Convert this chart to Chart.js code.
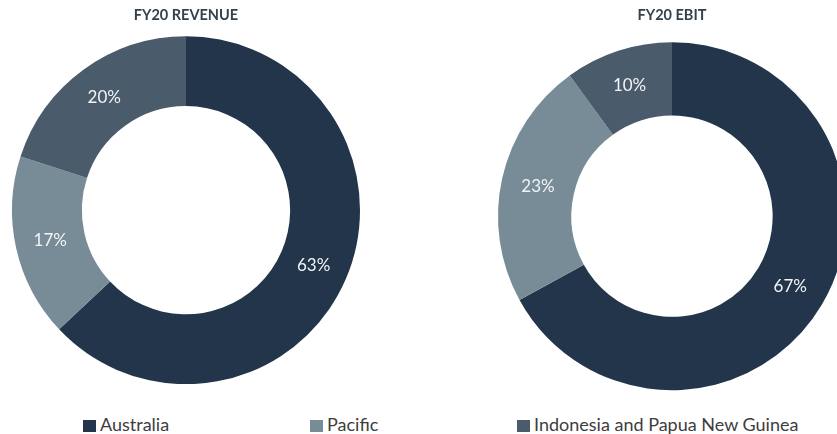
<!DOCTYPE html>
<html>
<head>
<meta charset="utf-8">
<script src="https://cdn.jsdelivr.net/npm/chart.js@4.4.1/dist/chart.umd.min.js"></script>
<style>
  html, body { margin: 0; padding: 0; background: #ffffff; width: 837px; height: 434px; overflow: hidden; position: relative; }
  .pie { position: absolute; top: 0; }
  #revenueBox { left: 0; width: 372px; height: 384px; }
  #ebitBox { left: 486px; width: 372px; height: 396px; }
  .legend-item { position: absolute; top: 413px; font-family: Lato, "Open Sans", sans-serif; font-size: 18px; color: #3d3d3d; white-space: nowrap; line-height: 22px; }
  .legend-item span.box { display: inline-block; width: 13px; height: 12px; margin-right: 4px; vertical-align: -1px; }
</style>
</head>
<body>
<div class="pie" id="revenueBox"><canvas id="revenue"></canvas></div>
<div class="pie" id="ebitBox"><canvas id="ebit"></canvas></div>
<div id="legend"></div>
<script>
// Segment shares (percent) by region
const regions = ["Australia", "Pacific", "Indonesia and Papua New Guinea"];
const revenueShare = [63, 17, 20];
const ebitShare = [67, 23, 10];
const regionColors = ["#22354a", "#788c97", "#4a5b6c"];
const legendLeft = [83, 310, 517];

// Writes the percentage in the middle of each ring segment
const segmentLabels = {
  id: 'segmentLabels',
  afterDatasetsDraw(chart) {
    const ctx = chart.ctx;
    const meta = chart.getDatasetMeta(0);
    const values = chart.data.datasets[0].data;
    ctx.save();
    ctx.font = '17px Lato, "Open Sans", sans-serif';
    ctx.fillStyle = '#f2f4f6';
    ctx.textAlign = 'center';
    ctx.textBaseline = 'middle';
    meta.data.forEach((arc, i) => {
      const p = arc.tooltipPosition();
      ctx.fillText(values[i] + '%', p.x, p.y);
    });
    ctx.restore();
  }
};

function makeDonut(id, title, values) {
  return new Chart(document.getElementById(id), {
    type: 'doughnut',
    data: {
      labels: regions,
      datasets: [{
        data: values,
        backgroundColor: regionColors,
        borderWidth: 0,
        hoverOffset: 0
      }]
    },
    options: {
      responsive: true,
      maintainAspectRatio: false,
      animation: false,
      radius: 174,
      cutout: 104,
      layout: { padding: 0 },
      plugins: {
        legend: { display: false },
        tooltip: { enabled: false },
        title: {
          display: true,
          text: title,
          color: '#33414f',
          font: { family: 'Lato, "Open Sans", sans-serif', size: 14.5, weight: 'bold' },
          padding: { top: 7, bottom: 12 }
        }
      }
    },
    plugins: [segmentLabels]
  });
}

makeDonut('revenue', 'FY20 REVENUE', revenueShare);
makeDonut('ebit', 'FY20 EBIT', ebitShare);

// Shared legend along the bottom
const legend = document.getElementById('legend');
regions.forEach((name, i) => {
  const item = document.createElement('div');
  item.className = 'legend-item';
  item.style.left = legendLeft[i] + 'px';
  const box = document.createElement('span');
  box.className = 'box';
  box.style.background = regionColors[i];
  item.appendChild(box);
  item.appendChild(document.createTextNode(name));
  legend.appendChild(item);
});
</script>
</body>
</html>
